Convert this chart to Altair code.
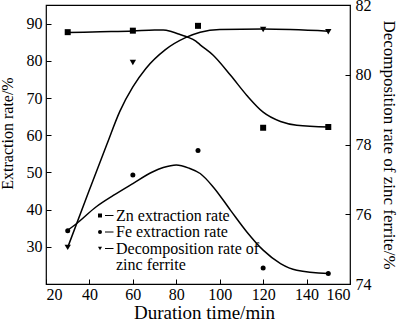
import altair as alt
import pandas as pd

# ---- data ----
x_points = [30, 60, 90, 120, 150]
zn_points = [87.7, 88.1, 89.4, 62.0, 62.2]
fe_points = [34.3, 49.3, 55.9, 24.3, 22.8]
dec_points = [75.05, 80.35, 81.4, 81.30, 81.23]

# fitted curves as drawn in the figure
zn_curve_x = [30, 45, 60, 70, 74, 78, 82, 85, 89, 91, 97, 105, 112.5, 120, 128, 135.5, 150]
zn_curve_y = [87.6, 87.8, 88.0, 88.3, 88.3, 87.8, 87.0, 86.4, 85.3, 84.3, 81.5, 76.1, 70.7, 66.2, 63.7, 62.7, 62.2]

fe_curve_x = [30, 34, 43, 51, 60, 69, 74, 80, 86, 91, 97, 105, 112.5, 120, 128, 135.5, 150]
fe_curve_y = [34.5, 36.2, 40.7, 43.8, 47.0, 50.1, 51.3, 52.0, 51.1, 49.7, 46.1, 39.8, 34.0, 29.1, 25.5, 23.7, 22.8]

dec_curve_x = [30, 40, 48, 54, 60, 66, 75, 84.5, 91, 100, 120, 150]
dec_curve_y = [75.05, 76.7, 78.0, 78.95, 79.65, 80.18, 80.72, 81.07, 81.22, 81.30, 81.31, 81.25]

x_ticks = [20, 40, 60, 80, 100, 120, 140, 160]
left_ticks = [30, 40, 50, 60, 70, 80, 90]
right_ticks = [74, 76, 78, 80, 82]

legend_labels = ["Zn extraction rate", "Fe extraction rate", "Decomposition rate of", "zinc ferrite"]
legend_shapes = ["square", "circle", "triangle-down"]

FONT = "Liberation Serif, serif"

def df(xs, ys):
    return pd.DataFrame({"x": xs, "y": ys})

common_axis = dict(offset=-5, domain=False, tickSize=5, grid=False,
                   labelFont=FONT, titleFont=FONT, labelFontWeight="normal",
                   titleFontWeight="normal", labelColor="black", titleColor="black",
                   tickColor="black", tickWidth=1, labelFontSize=16)

x_axis = alt.Axis(values=x_ticks, title="Duration time/min", labelPadding=2,
                  titleFontSize=19, titlePadding=1, titleX=158, **common_axis)
left_axis = alt.Axis(values=left_ticks, title="Extraction rate/%", labelPadding=4,
                     titleFontSize=16, titlePadding=11, titleY=128, **common_axis)
right_axis = alt.Axis(values=right_ticks, title="Decomposition rate of zinc ferrite/%",
                      orient="right", labelPadding=5, titleFontSize=17, titlePadding=8,
                      **common_axis)

X = alt.X("x:Q", scale=alt.Scale(domain=[20, 160], nice=False, zero=False), axis=x_axis)
YL = alt.Y("y:Q", scale=alt.Scale(domain=[20, 95], nice=False, zero=False), axis=left_axis)
YR = alt.Y("y:Q", scale=alt.Scale(domain=[74, 82], nice=False, zero=False), axis=right_axis)

line_style = dict(color="black", strokeWidth=1.5, interpolate="monotone")

zn_line = alt.Chart(df(zn_curve_x, zn_curve_y)).mark_line(**line_style).encode(x=X, y=YL)
fe_line = alt.Chart(df(fe_curve_x, fe_curve_y)).mark_line(**line_style).encode(x=X, y=YL)
zn_pts = alt.Chart(df(x_points, zn_points)).mark_point(
    shape="square", filled=True, color="black", opacity=1, size=36).encode(x=X, y=YL)
fe_pts = alt.Chart(df(x_points, fe_points)).mark_point(
    shape="circle", filled=True, color="black", opacity=1, size=25).encode(x=X, y=YL)

# legend drawn inside the plot
legend_layers = []
base_y = 215.5
step = 16.5
for i, lab in enumerate(legend_labels):
    yb = base_y + i * step
    legend_layers.append(
        alt.Chart(pd.DataFrame({"t": [lab]})).mark_text(
            font=FONT, fontSize=16, fontWeight="normal", align="left",
            baseline="alphabetic", color="black"
        ).encode(text="t:N", x=alt.value(70), y=alt.value(yb))
    )
for i, shp in enumerate(legend_shapes):
    ym = base_y + i * step - 5
    legend_layers.append(
        alt.Chart(pd.DataFrame({"s": [shp]})).mark_point(
            shape=shp, filled=True, color="black", opacity=1, size=16
        ).encode(x=alt.value(54), y=alt.value(ym))
    )
    legend_layers.append(
        alt.Chart(pd.DataFrame({"s": [shp]})).mark_rule(color="black", strokeWidth=1).encode(
            x=alt.value(59), x2=alt.value(67.5), y=alt.value(ym))
    )

left = alt.layer(zn_line, zn_pts, fe_line, fe_pts, *legend_layers)

dec_line = alt.Chart(df(dec_curve_x, dec_curve_y)).mark_line(**line_style).encode(x=X, y=YR)
dec_pts = alt.Chart(df(x_points, dec_points)).mark_point(
    shape="triangle-down", filled=True, color="black", opacity=1, size=40).encode(x=X, y=YR)
right = alt.layer(dec_line, dec_pts)

chart = alt.layer(left, right).resolve_scale(y="independent").properties(
    width=304, height=279,
    autosize=alt.AutoSizeParams(type="none"),
    padding={"left": 46, "top": 5, "right": 50, "bottom": 37},
).configure(font=FONT).configure_view(stroke="black", strokeWidth=1.2)

chart.save("out.html", embed_options={"renderer": "svg", "actions": False})
